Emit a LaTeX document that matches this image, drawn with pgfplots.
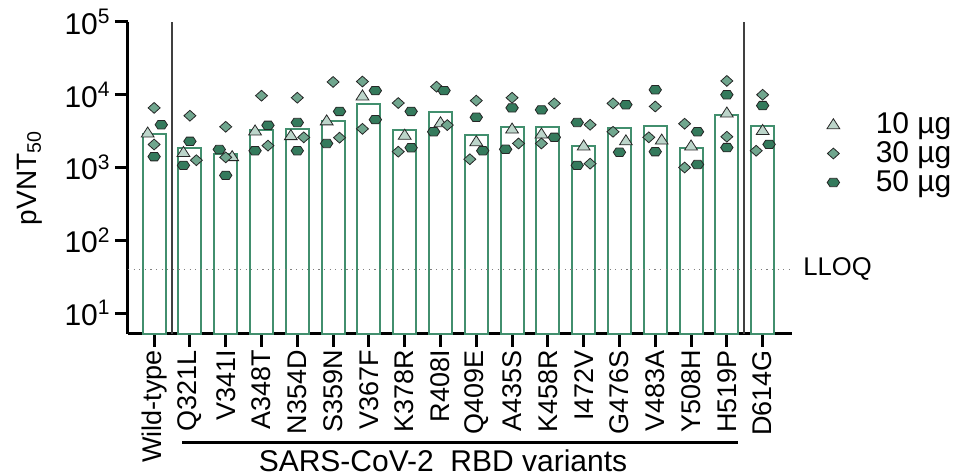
\documentclass[border=0pt]{standalone}
\usepackage{pgfplots}
\pgfplotsset{compat=1.18}
\usepackage{fontspec}
\setmainfont{Liberation Sans}

\definecolor{barg}{RGB}{66,143,110}
\definecolor{trif}{RGB}{188,213,202}
\definecolor{diaf}{RGB}{112,166,142}
\definecolor{hexf}{RGB}{52,122,92}

% marks as in the figure
\pgfdeclareplotmark{tri}{%
  \pgfpathmoveto{\pgfqpoint{0pt}{2.9pt}}%
  \pgfpathlineto{\pgfqpoint{3.2pt}{-2.1pt}}%
  \pgfpathlineto{\pgfqpoint{-3.2pt}{-2.1pt}}%
  \pgfpathclose\pgfusepathqfillstroke}
\pgfdeclareplotmark{dia}{%
  \pgfpathmoveto{\pgfqpoint{0pt}{2.7pt}}%
  \pgfpathlineto{\pgfqpoint{3pt}{0pt}}%
  \pgfpathlineto{\pgfqpoint{0pt}{-2.7pt}}%
  \pgfpathlineto{\pgfqpoint{-3pt}{0pt}}%
  \pgfpathclose\pgfusepathqfillstroke}
\pgfdeclareplotmark{hex}{%
  \pgfpathmoveto{\pgfqpoint{-3.1pt}{0pt}}%
  \pgfpathlineto{\pgfqpoint{-1.7pt}{2.1pt}}%
  \pgfpathlineto{\pgfqpoint{1.7pt}{2.1pt}}%
  \pgfpathlineto{\pgfqpoint{3.1pt}{0pt}}%
  \pgfpathlineto{\pgfqpoint{1.7pt}{-2.1pt}}%
  \pgfpathlineto{\pgfqpoint{-1.7pt}{-2.1pt}}%
  \pgfpathclose\pgfusepathqfillstroke}

\begin{document}
\begin{tikzpicture}
\path[use as bounding box] (-64pt,-70.5pt) rectangle (413.5pt,167pt);
\begin{axis}[
    at={(0,0)}, anchor=south west,
    scale only axis, width=332pt, height=156pt,
    ymode=log, ymin=5.15, ymax=1e5, log origin=infty,
    xmin=-0.73, xmax=17.82,
    axis x line*=bottom, axis y line*=left,
    axis line style={line width=1.5pt},
    tick style={line width=1.5pt, black},
    major tick length=6.5pt, tick align=outside,
    minor tick num=0, yminorticks=false,
    xtick={0,...,17},
    xticklabels={Wild-type,Q321L,V341I,A348T,N354D,S359N,V367F,K378R,R408I,Q409E,A435S,K458R,I472V,G476S,V483A,Y508H,H519P,D614G},
    xticklabel style={rotate=90, anchor=east, inner sep=1.5pt, font=\fontsize{13.5}{15}\selectfont},
    ytick={10,100,1000,10000,100000},
    yticklabels={10\textsuperscript{1},10\textsuperscript{2},10\textsuperscript{3},10\textsuperscript{4},10\textsuperscript{5}},
    yticklabel style={inner sep=2pt, font=\fontsize{15}{17}\selectfont},
    ylabel={pVNT\textsubscript{50}},
    ylabel style={at={(axis description cs:-0.148,0.5)}, anchor=center, font=\fontsize{14}{16}\selectfont},
    clip=false,
    legend style={draw=none, fill=none, at={(1.0527,0.7115)}, anchor=north west,
      inner sep=0pt, outer sep=0pt, column sep=18pt, row sep=0pt,
      font=\fontsize{15}{17}\selectfont,
      nodes={inner sep=0pt, text height=10.5pt, text depth=4pt}},
    legend cell align=left,
    legend image code/.code={\draw[#1] plot coordinates {(0pt,1pt)};},
]
% geometric means
\addplot[ybar, bar width=11.5pt, draw=barg, fill=white, line width=1pt, forget plot]
coordinates {
(0,2920) (1,1880) (2,1550) (3,3250) (4,3400) (5,4370) (6,7550) (7,3250) (8,5850)
(9,2810) (10,3630) (11,3600) (12,1990) (13,3540) (14,3760) (15,1880) (16,5300) (17,3760)
};
% LLOQ
\addplot[gray, line width=0.6pt, dash pattern=on 0.6pt off 2.2pt, forget plot]
coordinates {(-0.73,40) (17.82,40)};
% 10 ug
\addplot[only marks, mark=tri, mark options={fill=trif, draw=black!85, line width=0.4pt}]
coordinates {
(-0.18,3000) (0.82,1620) (2.18,1420) (2.82,3200) (3.82,2760) (4.82,4400) (5.82,9700)
(7,2800) (8,4150) (9,2280) (10,3400) (10.82,2900) (12,1990) (13.18,2340) (14.18,2400)
(15,1990) (16,5650) (17,3250)
};
% 30 ug
\addplot[only marks, mark=dia, mark options={fill=diaf, draw=black!85, line width=0.4pt}]
coordinates {
(0,6600) (0,2070) (1,5150) (1.18,1260) (2,3630) (2,1380) (3,9700) (3.18,2000)
(4,9100) (4.18,2600) (5,15000) (5.18,2570) (5.82,15200) (5.82,3400) (6.82,7700) (6.82,1650)
(7.89,12900) (8.19,3830) (9,8300) (8.82,1300) (10,9100) (10.18,2140) (11.18,7600) (10.82,2140)
(12.18,3870) (12.18,1130) (12.82,7600) (12.82,3100) (14,6900) (13.82,2600) (14.82,4000) (14.82,1000)
(16,15500) (16,2650) (17,10000) (16.82,1700)
};
% 50 ug
\addplot[only marks, mark=hex, mark options={fill=hexf, draw=black!85, line width=0.4pt}]
coordinates {
(0.2,3870) (0,1410) (1,2290) (0.82,1070) (1.82,1770) (2,780) (3.18,3800) (2.82,1700)
(4,4150) (4,1700) (5.18,5900) (4.82,2140) (6.18,11400) (6.18,4550) (7.18,5900) (7.18,1870)
(8.1,11400) (7.81,3100) (9,4900) (9.18,1700) (10,6600) (9.82,1780) (10.82,6200) (11.18,2600)
(11.82,4150) (11.82,1070) (13.18,7300) (13,1620) (14,11700) (14,1650) (15.18,3100) (15.18,1100)
(16,10000) (16,1880) (17,7100) (17.18,2080)
};
\legend{10 µg,30 µg,50 µg}
% separators
\draw[line width=1pt, black!75] (axis cs:0.5,5.15) -- (axis cs:0.5,1e5);
\draw[line width=1pt, black!75] (axis cs:16.47,5.15) -- (axis cs:16.47,1e5);
\node[anchor=west, inner sep=0pt, font=\fontsize{12.8}{15}\selectfont] at ([xshift=5.5pt]axis cs:17.82,40) {LLOQ};
% group bracket
\draw[line width=1.5pt] ([yshift=-54.5pt]axis cs:0.78,5.15) -- ([yshift=-54.5pt]axis cs:16.31,5.15);
\node[font=\fontsize{15}{17}\selectfont, inner sep=1pt] at ([yshift=-63.5pt]axis cs:8.07,5.15) {SARS-CoV-2\ \ RBD variants};
\end{axis}
\end{tikzpicture}
\end{document}
